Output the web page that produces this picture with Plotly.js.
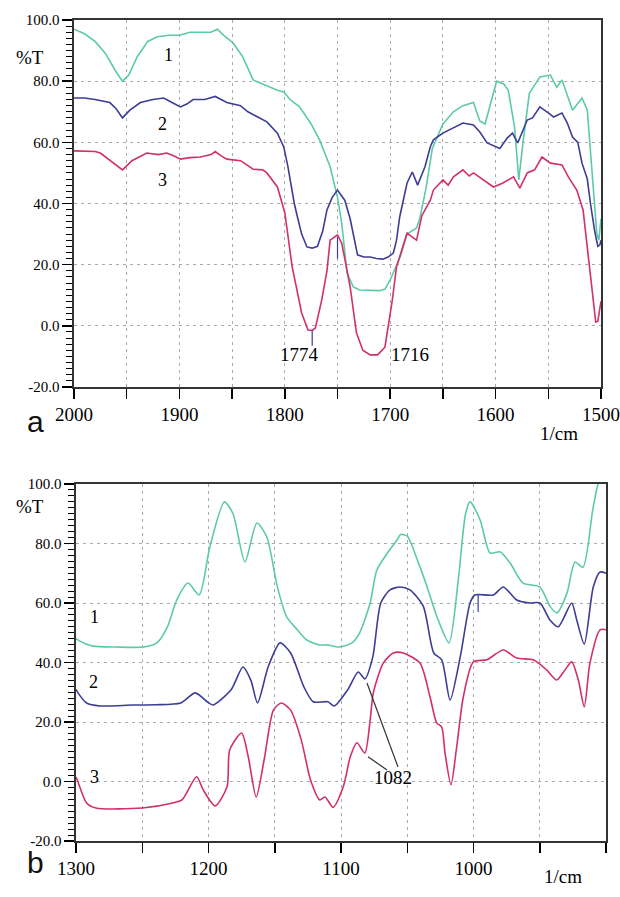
<!DOCTYPE html>
<html>
<head>
<meta charset="utf-8">
<script src="https://cdn.plot.ly/plotly-3.0.1.min.js"></script>
<style>html,body{margin:0;padding:0;background:#fff;}#chart{width:620px;height:897px;}</style>
</head>
<body>
<div id="chart"></div>
<script>
// Panel a (2000-1500 1/cm)
const aX1 = [2000,1990,1980,1970,1960,1954,1948,1940,1930,1921,1910,1900,1890,1880,1870,1864,1858,1849,1840,1830,1817,1807,1801,1795,1786,1775,1767,1757,1750,1746,1741,1735,1729,1720,1710,1705,1700,1695,1690,1684,1679,1675,1672,1666,1660,1650,1640,1631,1621,1615,1610,1605,1599,1592,1588,1582,1578,1574,1568,1558,1548,1542,1537,1527,1518,1513,1508,1504,1502,1500];
const aY1 = [97,95.5,93,89,83,80,82,88,93,94.5,95,95,96,96,96,97,95,92.5,88,80.4,78.5,77,76.5,74,71.6,66,60.8,52,42,33.6,17.3,12.7,11.7,11.5,11.5,12,15,19,23,30,31,32,35,45,58,66,70,72,73,67,66,72,80,79,77,65,47.7,60,76,81.4,82,78,80.4,70.5,74.5,70.5,49,30.3,28,35];
const aX2 = [2000,1990,1980,1966,1960,1954,1947,1937,1925,1915,1907,1899,1893,1887,1876,1866,1855,1842,1835,1826,1817,1807,1801,1797,1791,1788,1784,1779,1774,1769,1764,1760,1755,1750,1746,1743,1738,1735,1731,1725,1719,1713,1707,1702,1697,1694,1691,1684,1679,1674,1667,1662,1659,1650,1640,1631,1621,1615,1608,1603,1596,1589,1584,1579,1570,1565,1558,1550,1545,1537,1532,1527,1522,1518,1513,1510,1506,1503,1501,1500];
const aY2 = [74.5,74.5,74,73,71,68,70.5,73,74,74.5,73,71.6,72.5,74,74,75,73,72,70,68.3,66.7,63,58.5,52,40,35.6,30,25.8,25.4,26,31,37.9,42,44.4,42.5,41,35,30.3,23.2,22.5,22.5,22,21.8,22.5,23.8,28,35.6,46.7,50.3,46,52,58.5,60.8,63,64.7,66.3,65.7,63.4,59.8,59,58,61.4,63,59.8,67.3,68,71.6,69.6,68.3,69.6,66.3,61.7,60,53.2,48,40,31,26,26.5,28];
const aX3 = [2000,1990,1980,1975,1965,1954,1945,1931,1920,1912,1905,1899,1890,1880,1870,1866,1860,1855,1842,1836,1830,1821,1817,1807,1800,1793,1784,1778,1774,1771,1765,1760,1757,1750,1746,1742,1738,1732,1726,1719,1712,1705,1698,1694,1684,1679,1675,1670,1662,1659,1650,1645,1640,1631,1625,1621,1612,1602,1593,1583,1577,1570,1563,1556,1548,1537,1531,1523,1517,1513,1508,1505,1503,1501,1500];
const aY3 = [57.2,57.2,57,56.5,54,51,54,56.5,56,56.5,55.5,54.5,55,55.2,56,57,55.5,54.5,54,52.5,51.2,51,50,45.4,37,19.3,4.2,-1.4,-1.5,-0.7,8.4,18,28,29.7,27,20,12.7,-2.3,-8,-9.5,-9.5,-7,8.4,19.3,30.3,29,28,36,41,44.4,47.7,46,48.7,51,49,50,47.7,45.4,46.7,48.7,45,50,51,55.2,53.2,52.6,48.7,44.4,37.9,25.8,10.7,1.2,1.5,6,8];

// Panel b (1300-900 1/cm)
const bX1 = [1300,1298.5,1293,1287,1270,1249,1239,1231,1224,1215.5,1207,1199,1188,1181.5,1172.5,1163.5,1156,1148,1141,1133,1126,1116,1110,1102,1092,1086,1078,1073,1065,1058,1055,1050,1042,1035,1027.5,1018.5,1011.5,1006,1002.6,995,987.5,980,972.5,962.6,950,942,937,929.4,923.4,917.4,910,906,900];
const bY1 = [48,47.6,46.3,45.5,45.2,45.2,46.6,52,61,66.7,62.7,78.8,94,90,73.8,86.9,82.2,65.4,55.3,51,47.6,45.9,45.9,45.2,46.5,49.9,60,71,76.8,81,83,82.5,74,65.4,55.3,46.6,67.7,90,94,87.9,76.8,77.2,73.5,66.7,65.4,58.7,56.7,63.4,73.8,72,91.3,100,106];
const bX2 = [1300,1298.5,1292,1282,1257,1240,1221,1210,1201,1196.6,1183,1174,1168,1163,1155,1146,1138,1128,1121,1110,1105,1095,1087,1082,1076,1070,1063,1055.5,1048,1038,1030,1024,1017.7,1010,1002.6,999,985,977.5,967.4,957.4,949.8,942.3,936,925.9,922.1,916.4,909.6,904.5,900];
const bY2 = [31,29.8,26.4,25.4,25.7,25.8,26.4,29.8,26.8,25.7,30.8,38.5,34,26.4,38.5,46.6,43.2,31.8,26.8,26.8,25.4,30.8,36.8,34.5,41.9,60,64.4,65.4,64.4,59,43.2,40.9,27.4,41.9,60,62.7,62.7,65.4,61,60,60,54.3,52,60,54.3,46.2,65.4,70.4,70];
const bX3 = [1300,1299,1292,1285,1250,1227,1220,1209,1204,1195,1186,1184,1175,1170,1164,1158,1151,1145,1138,1130,1123,1116,1112,1106,1098.3,1093,1088,1082,1078,1075.6,1068,1060.5,1053,1040.4,1032.8,1027.8,1024,1021.5,1017,1012.7,1007.7,1000.1,990,977.5,967.4,954.9,944.8,937.2,931,925.9,920.9,916.4,912.1,904.5,900];
const bY3 = [1.5,0.5,-7.2,-8.9,-8.9,-7.2,-6.2,1.6,-2.8,-8.2,-1.8,10.6,16.3,8.3,-5.2,7.3,24,26.4,24,14,0.5,-6.2,-5.2,-8.7,-1.8,8.3,13,9.6,20.7,29.8,39.9,43.2,43.2,39.8,28.4,19.7,18.3,9.6,-1.1,11.6,28.4,40.2,40.9,44.2,41.5,40.9,37.5,34.1,37.5,40.2,34.1,25.1,39.9,51,51];

// Tick labels
const aTickVals = [2000,1950,1900,1850,1800,1750,1700,1650,1600,1550,1500];
const aTickText = ['2000','','1900','','1800','','1700','','1600','','1500'];
const bTickVals = [1300,1250,1200,1150,1100,1050,1000,950,900];
const bTickText = ['1300','','1200','','1100','','1000','','900'];
const yTickVals = [-20,0,20,40,60,80,100];
const yTickText = ['-20.0','0.0','20.0','40.0','60.0','80.0','100.0'];

const C1 = '#5ccaa9', C2 = '#3d3d98', C3 = '#d22f6d';
const serif = 'Liberation Serif, Times New Roman, serif';

function tr(x, y, c, xa, ya, shape) {
  return {x: x, y: y, xaxis: xa, yaxis: ya, type: 'scatter', mode: 'lines',
    line: {color: c, width: 1.6, shape: shape, smoothing: 0.7}, hoverinfo: 'skip'};
}
const data = [
  tr(aX1, aY1, C1, 'x', 'y', 'linear'),
  tr(aX2, aY2, C2, 'x', 'y', 'linear'),
  tr(aX3, aY3, C3, 'x', 'y', 'linear'),
  tr(bX1, bY1, C1, 'x2', 'y2', 'spline'),
  tr(bX2, bY2, C2, 'x2', 'y2', 'spline'),
  tr(bX3, bY3, C3, 'x2', 'y2', 'spline')
];

function xax(dom, rng, tv, tt, anchor) {
  return {domain: dom, range: rng, anchor: anchor, tickmode: 'array', tickvals: tv, ticktext: tt,
    ticks: 'outside', ticklen: 10, tickwidth: 1.5, tickcolor: '#000',
    showline: true, linecolor: '#333', linewidth: 1.6, mirror: true,
    showgrid: true, gridcolor: '#aaaaaa', griddash: '3px,4px', gridwidth: 1, zeroline: false,
    tickfont: {family: serif, size: 19, color: '#000'}};
}
function yax(dom, anchor) {
  return {domain: dom, range: [-20, 100], anchor: anchor, tickmode: 'array', tickvals: yTickVals, ticktext: yTickText,
    ticks: 'outside', ticklen: 10, tickwidth: 1.5, tickcolor: '#000',
    minor: {dtick: 2, ticks: 'outside', ticklen: 6, tickwidth: 1, tickcolor: '#000', showgrid: false},
    showline: true, linecolor: '#333', linewidth: 1.6, mirror: true,
    showgrid: true, gridcolor: '#aaaaaa', griddash: '3px,4px', gridwidth: 1, zeroline: false,
    tickfont: {family: serif, size: 15, color: '#000'}};
}

function lab(t, x, y, xr, yr, size, extra) {
  return Object.assign({text: t, x: x, y: y, xref: xr, yref: yr, showarrow: false,
    font: {family: serif, size: size, color: '#000'}}, extra || {});
}

const annotations = [
  lab('1', 1910.8, 88.6, 'x', 'y', 18), lab('2', 1915.6, 66, 'x', 'y', 18), lab('3', 1916.5, 47.7, 'x', 'y', 18),
  lab('1774', 1785.6, -9.5, 'x', 'y', 19), lab('1716', 1681, -9.5, 'x', 'y', 19),
  lab('1', 1285.7, 55.3, 'x2', 'y2', 18), lab('2', 1287, 33.4, 'x2', 'y2', 18), lab('3', 1285.7, 1.5, 'x2', 'y2', 18),
  lab('1082', 1060.8, 1.2, 'x2', 'y2', 19),
  lab('%T', 14/620, 1-45/897, 'paper', 'paper', 19, {xanchor: 'left'}),
  lab('%T', 14/620, 1-507/897, 'paper', 'paper', 19, {xanchor: 'left'}),
  lab('1/cm', 580/620, 1-433/897, 'paper', 'paper', 19),
  lab('1/cm', 584/620, 1-889/897, 'paper', 'paper', 19),
  lab('a', 25/620, 1-421/897, 'paper', 'paper', 30, {font: {family: 'Liberation Sans, Arial, sans-serif', size: 30, color: '#111'}}),
  lab('b', 25/620, 1-881/897, 'paper', 'paper', 30, {font: {family: 'Liberation Sans, Arial, sans-serif', size: 30, color: '#111'}})
];

function seg(x0, y0, x1, y1, xr, yr, c) {
  return {type: 'line', x0: x0, y0: y0, x1: x1, y1: y1, xref: xr, yref: yr, line: {color: c, width: 1.2}};
}
const shapes = [
  seg(1774, -1.5, 1774, -6.5, 'x', 'y', C2),
  seg(1750, 29, 1750, 22, 'x', 'y', C2),
  seg(996.5, 62.7, 996.5, 57, 'x2', 'y2', C2),
  seg(1080.4, 33.1, 1057, 4.9, 'x2', 'y2', '#333'),
  seg(1079.6, 8.3, 1065.3, 3.9, 'x2', 'y2', '#333')
];

const layout = {
  width: 620, height: 897, margin: {l: 0, r: 0, t: 0, b: 0},
  paper_bgcolor: '#ffffff', plot_bgcolor: '#ffffff', showlegend: false,
  xaxis: xax([74/620, 601/620], [2000, 1500], aTickVals, aTickText, 'y'),
  yaxis: yax([1-387/897, 1-20/897], 'x'),
  xaxis2: xax([76/620, 606/620], [1300, 900], bTickVals, bTickText, 'y2'),
  yaxis2: yax([1-841/897, 1-484/897], 'x2'),
  annotations: annotations, shapes: shapes
};

Plotly.newPlot('chart', data, layout, {displayModeBar: false, staticPlot: true});
</script>
</body>
</html>
